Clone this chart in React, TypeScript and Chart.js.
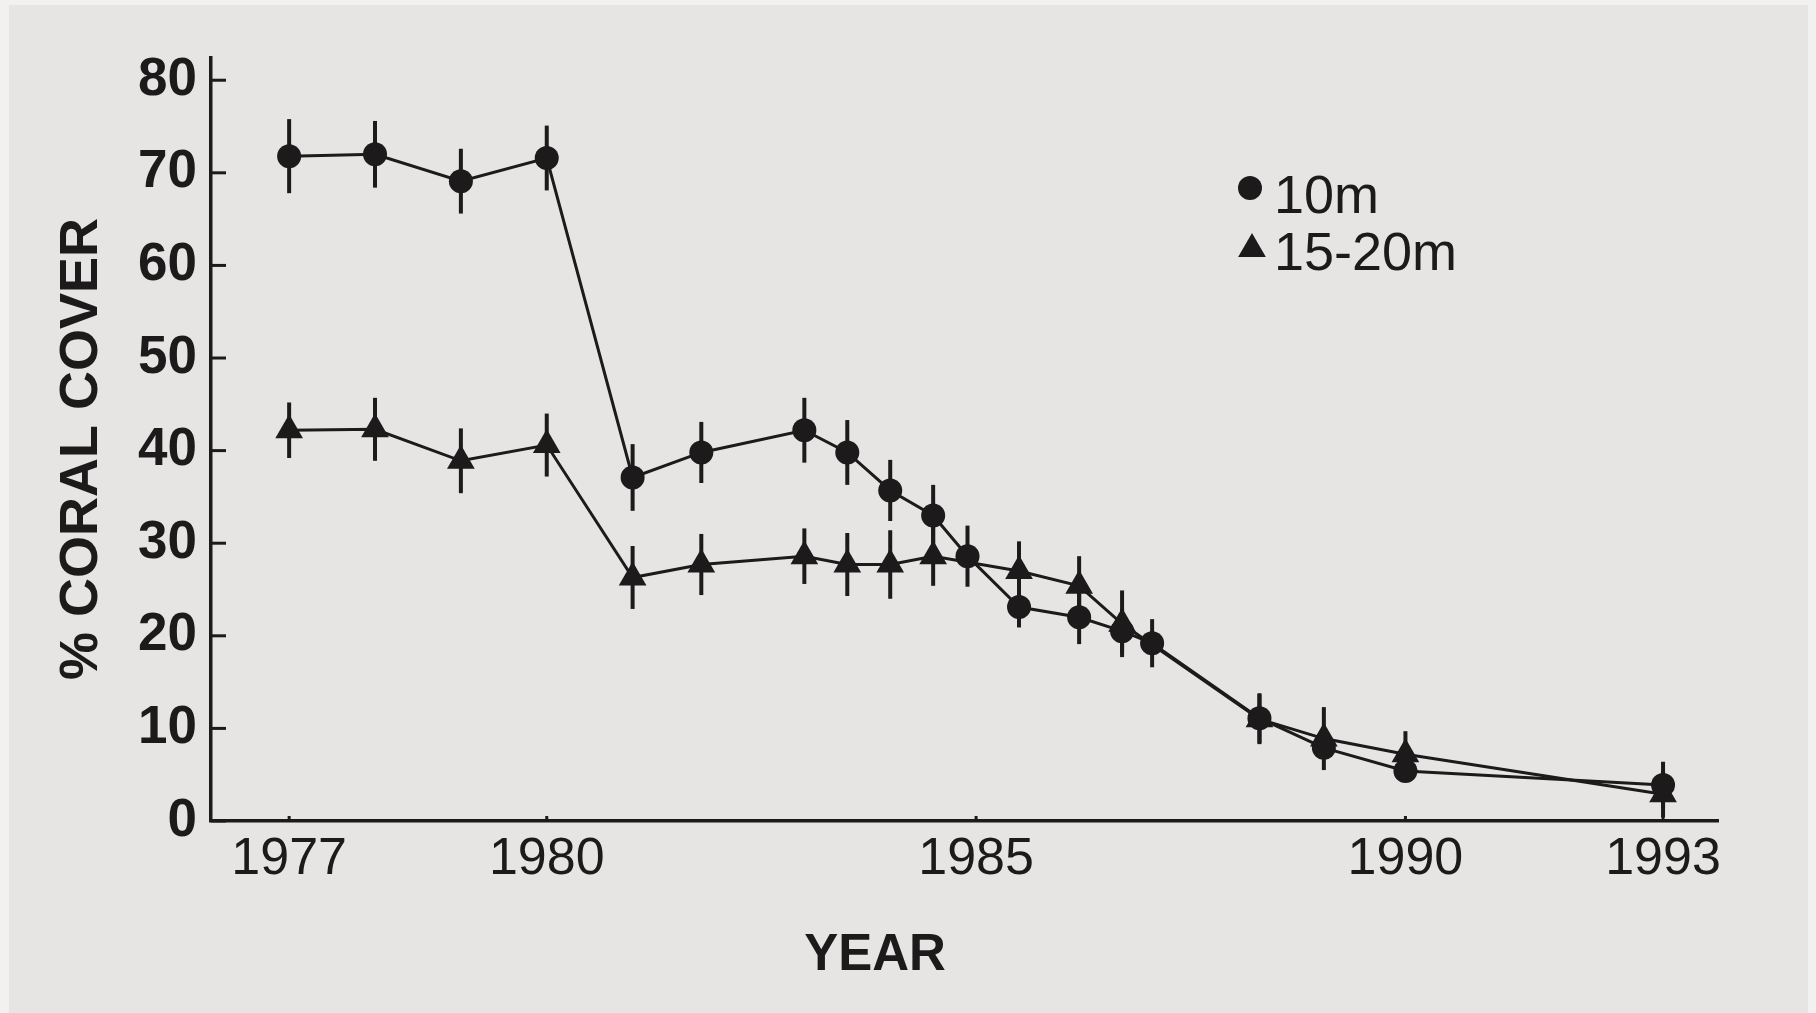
import React, { useEffect, useRef } from 'react';
import { Chart, registerables } from 'chart.js';

Chart.register(...registerables);

// ---- data ----
const years = [1977, 1978, 1979, 1980, 1981, 1981.8, 1983, 1983.5, 1984, 1984.5, 1984.9, 1985.5, 1986.2, 1986.7, 1987.05, 1988.3, 1989.05, 1990, 1993];
const cover10m = [71.8, 72.0, 69.1, 71.6, 37.1, 39.8, 42.2, 39.8, 35.7, 33.0, 28.6, 23.1, 22.0, 20.5, 19.2, 11.1, 7.9, 5.4, 3.9];
const err10m = [4.0, 3.6, 3.5, 3.5, 3.6, 3.3, 3.5, 3.5, 3.3, 3.3, 3.3, 2.2, 2.9, 2.4, 2.6, 2.7, 1.2, 1.2, 2.5];
const cover15to20m = [42.2, 42.3, 38.9, 40.6, 26.3, 27.7, 28.6, 27.7, 27.7, 28.6, null, 27.0, 25.4, 21.3, null, 11.0, 8.9, 7.2, 2.9];
const err15to20m = [3.0, 3.4, 3.5, 3.4, 3.4, 3.3, 3.0, 3.4, 3.7, 3.2, null, 3.2, 3.2, 3.6, null, 2.7, 3.4, 2.5, 2.5];
const seriesLabels = ['10m', '15-20m'];
const xTickYears = [1977, 1980, 1985, 1990, 1993];
const yTickValues = [0, 10, 20, 30, 40, 50, 60, 70, 80];
const xTitle = 'YEAR';
const yTitle = '% CORAL COVER';

const INK = '#1c1a1a';
const FONT = '"Liberation Sans", Arial, Helvetica, sans-serif';
const errorsByDataset = [err10m, err15to20m];

const errorBarPlugin = {
  id: 'errorBars',
  beforeDatasetsDraw(chart: any) {
    const { ctx } = chart;
    const xs = chart.scales.x;
    const ys = chart.scales.y;
    ctx.save();
    ctx.strokeStyle = INK;
    ctx.lineWidth = 4;
    chart.data.datasets.forEach((ds: any, i: number) => {
      const errs = errorsByDataset[i];
      ds.data.forEach((pt: any, j: number) => {
        if (!pt || pt.y == null || errs[j] == null) return;
        const px = xs.getPixelForValue(pt.x);
        ctx.beginPath();
        ctx.moveTo(px, ys.getPixelForValue(pt.y + errs[j]));
        ctx.lineTo(px, ys.getPixelForValue(pt.y - errs[j]));
        ctx.stroke();
      });
    });
    ctx.restore();
  },
};

const axisDecorPlugin = {
  id: 'axisDecor',
  beforeDatasetsDraw(chart: any) {
    const { ctx, chartArea } = chart;
    const xs = chart.scales.x;
    const ys = chart.scales.y;
    ctx.save();
    ctx.strokeStyle = INK;
    ctx.lineWidth = 3;
    yTickValues.forEach((v) => {
      const py = ys.getPixelForValue(v);
      ctx.beginPath();
      ctx.moveTo(chartArea.left, py);
      ctx.lineTo(chartArea.left + 15, py);
      ctx.stroke();
    });
    xTickYears.forEach((v) => {
      const px = xs.getPixelForValue(v);
      ctx.beginPath();
      ctx.moveTo(px, chartArea.bottom);
      ctx.lineTo(px, chartArea.bottom - 5);
      ctx.stroke();
    });
    ctx.restore();
  },
  afterDraw(chart: any) {
    const { ctx } = chart;
    ctx.save();
    ctx.fillStyle = INK;
    // axis titles
    ctx.font = `bold 54px ${FONT}`;
    ctx.textAlign = 'center';
    ctx.textBaseline = 'middle';
    ctx.translate(73, 444);
    ctx.rotate(-Math.PI / 2);
    ctx.fillText(yTitle, 0, 0);
    ctx.setTransform(1, 0, 0, 1, 0, 0);
    ctx.font = `bold 51px ${FONT}`;
    ctx.fillText(xTitle, 866, 951);
    // legend
    ctx.beginPath();
    ctx.arc(1241, 183, 12, 0, Math.PI * 2);
    ctx.fill();
    const r = 16;
    const tx = 1243;
    const ty = 244;
    ctx.beginPath();
    ctx.moveTo(tx, ty - r);
    ctx.lineTo(tx + r * 0.866, ty + r * 0.5);
    ctx.lineTo(tx - r * 0.866, ty + r * 0.5);
    ctx.closePath();
    ctx.fill();
    ctx.font = `54px ${FONT}`;
    ctx.textAlign = 'left';
    ctx.textBaseline = 'alphabetic';
    ctx.fillText(seriesLabels[0], 1265, 208);
    ctx.fillText(seriesLabels[1], 1265, 265);
    ctx.restore();
  },
};

export default function App() {
  const canvasRef = useRef<HTMLCanvasElement | null>(null);

  useEffect(() => {
    document.body.style.margin = '0';
    const canvas = canvasRef.current;
    if (!canvas) return;
    const chart = new Chart(canvas, {
      type: 'line',
      data: {
        datasets: [
          {
            label: seriesLabels[0],
            data: years.map((x, i) => ({ x, y: cover10m[i] })),
            borderColor: INK,
            backgroundColor: INK,
            borderWidth: 3,
            pointStyle: 'circle',
            pointRadius: 12,
            pointBorderWidth: 0,
            pointBackgroundColor: INK,
            spanGaps: true,
            tension: 0,
          },
          {
            label: seriesLabels[1],
            data: years.map((x, i) => ({ x, y: cover15to20m[i] })),
            borderColor: INK,
            backgroundColor: INK,
            borderWidth: 3,
            pointStyle: 'triangle',
            pointRadius: 16,
            pointBorderWidth: 0,
            pointBackgroundColor: INK,
            spanGaps: true,
            tension: 0,
          },
        ],
      },
      options: {
        animation: false,
        responsive: false,
        maintainAspectRatio: false,
        layout: { padding: { top: 53, right: 90, left: 0, bottom: 0 } },
        plugins: { legend: { display: false }, tooltip: { enabled: false }, title: { display: false } },
        scales: {
          x: {
            type: 'linear',
            min: 1976.09,
            max: 1993.64,
            grid: { display: false, drawTicks: false },
            border: { display: true, color: INK, width: 3.5 },
            ticks: {
              font: { family: FONT, size: 52 },
              color: INK,
              padding: 7,
              autoSkip: false,
              maxRotation: 0,
              callback: (v: any) => String(v),
            },
            afterBuildTicks: (s: any) => {
              s.ticks = xTickYears.map((value) => ({ value }));
            },
            afterFit: (s: any) => {
              s.height = 192;
            },
          },
          y: {
            type: 'linear',
            min: 0,
            max: 82.4,
            grid: { display: false, drawTicks: false },
            border: { display: true, color: INK, width: 3.5 },
            ticks: {
              font: { family: FONT, size: 53, weight: 'bold' },
              color: INK,
              padding: 14,
              callback: (v: any) => String(v),
            },
            afterBuildTicks: (s: any) => {
              s.ticks = yTickValues.map((value) => ({ value }));
            },
            afterFit: (s: any) => {
              s.width = 202;
            },
          },
        },
      } as any,
      plugins: [errorBarPlugin, axisDecorPlugin],
    });
    return () => chart.destroy();
  }, []);

  return (
    <div style={{ width: 1816, height: 1013, background: '#f2f1f0', position: 'relative', overflow: 'hidden' }}>
      <canvas
        ref={canvasRef}
        width={1799}
        height={1008}
        style={{ position: 'absolute', left: 9, top: 5, width: 1799, height: 1008, background: '#e7e5e4', display: 'block' }}
      />
    </div>
  );
}
